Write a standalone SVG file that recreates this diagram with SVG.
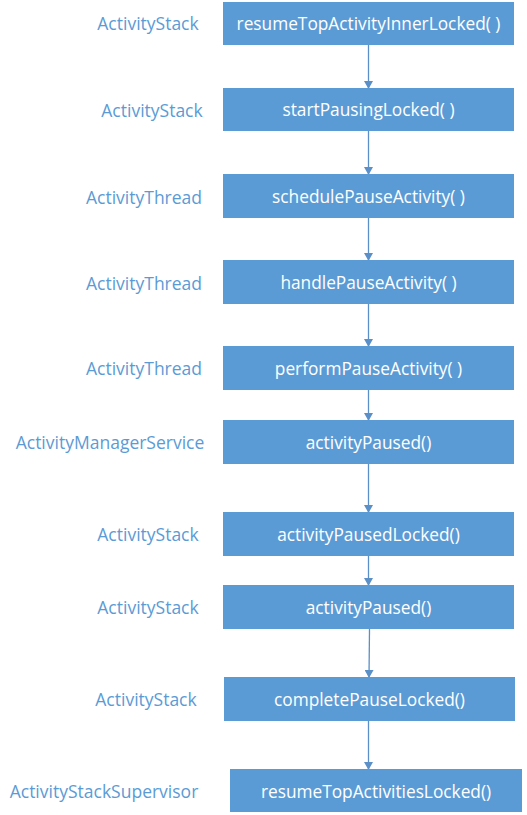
<svg xmlns="http://www.w3.org/2000/svg" width="527" height="815" viewBox="0 0 527 815">
<style>
.box{fill:#5b9bd5}
.t{font-family:"Open Sans","Liberation Sans",sans-serif;font-size:17.3px;fill:#ffffff;text-anchor:middle}
.l{font-family:"Open Sans","Liberation Sans",sans-serif;font-size:17.5px;fill:#5b9bd5;text-anchor:middle}
.c{stroke:#5b8fc7;stroke-width:1.3;fill:none}
</style>
<defs>
<marker id="ah" markerWidth="8" markerHeight="9" refX="7" refY="4.5" orient="auto" markerUnits="userSpaceOnUse">
<path d="M0,0 L8,4.5 L0,9 Z" fill="#5b8fc7"/>
</marker>
</defs>
<rect width="527" height="815" fill="#ffffff"/>
<g id="connectors">
<line class="c" x1="368.5" y1="45" x2="368.5" y2="88" marker-end="url(#ah)"/>
<line class="c" x1="368.5" y1="131" x2="368.5" y2="174" marker-end="url(#ah)"/>
<line class="c" x1="368.5" y1="218" x2="368.5" y2="260" marker-end="url(#ah)"/>
<line class="c" x1="368.5" y1="304" x2="368.5" y2="346" marker-end="url(#ah)"/>
<line class="c" x1="368.5" y1="390" x2="368.5" y2="420" marker-end="url(#ah)"/>
<line class="c" x1="368.5" y1="464" x2="368.5" y2="512" marker-end="url(#ah)"/>
<line class="c" x1="368.5" y1="556" x2="368.5" y2="585" marker-end="url(#ah)"/>
<line class="c" x1="369.5" y1="629" x2="369" y2="677" marker-end="url(#ah)"/>
<line class="c" x1="368.5" y1="721" x2="368.5" y2="769" marker-end="url(#ah)"/>
</g>
<g id="n1"><rect class="box" x="223" y="2" width="291" height="43"/><text class="t" x="368.5" y="29.5">resumeTopActivityInnerLocked( )</text><text class="l" x="148" y="29.5">ActivityStack</text></g>
<g id="n2"><rect class="box" x="223" y="88" width="291" height="43"/><text class="t" x="368.5" y="115.5">startPausingLocked( )</text><text class="l" x="152" y="116.5">ActivityStack</text></g>
<g id="n3"><rect class="box" x="223" y="174" width="291" height="44"/><text class="t" x="368.5" y="202.5">schedulePauseActivity( )</text><text class="l" x="144" y="203.5">ActivityThread</text></g>
<g id="n4"><rect class="box" x="223" y="260" width="291" height="44"/><text class="t" x="368.5" y="288.5">handlePauseActivity( )</text><text class="l" x="144" y="289.5">ActivityThread</text></g>
<g id="n5"><rect class="box" x="223" y="346" width="291" height="44"/><text class="t" x="368.5" y="374.5">performPauseActivity( )</text><text class="l" x="144" y="374.5">ActivityThread</text></g>
<g id="n6"><rect class="box" x="223" y="420" width="291" height="44"/><text class="t" x="368.5" y="448.5">activityPaused()</text><text class="l" x="110" y="448.5">ActivityManagerService</text></g>
<g id="n7"><rect class="box" x="223" y="512" width="291" height="44"/><text class="t" x="368.5" y="540.5">activityPausedLocked()</text><text class="l" x="148" y="540.5">ActivityStack</text></g>
<g id="n8"><rect class="box" x="223" y="585" width="291" height="44"/><text class="t" x="368.5" y="613.5">activityPaused()</text><text class="l" x="148" y="613.5">ActivityStack</text></g>
<g id="n9"><rect class="box" x="224" y="677" width="291" height="44"/><text class="t" x="369.5" y="705.5">completePauseLocked()</text><text class="l" x="146" y="705.5">ActivityStack</text></g>
<g id="n10"><rect class="box" x="230" y="769" width="292" height="43"/><text class="t" x="376" y="797.5">resumeTopActivitiesLocked()</text><text class="l" x="104" y="797.5">ActivityStackSupervisor</text></g>
</svg>
